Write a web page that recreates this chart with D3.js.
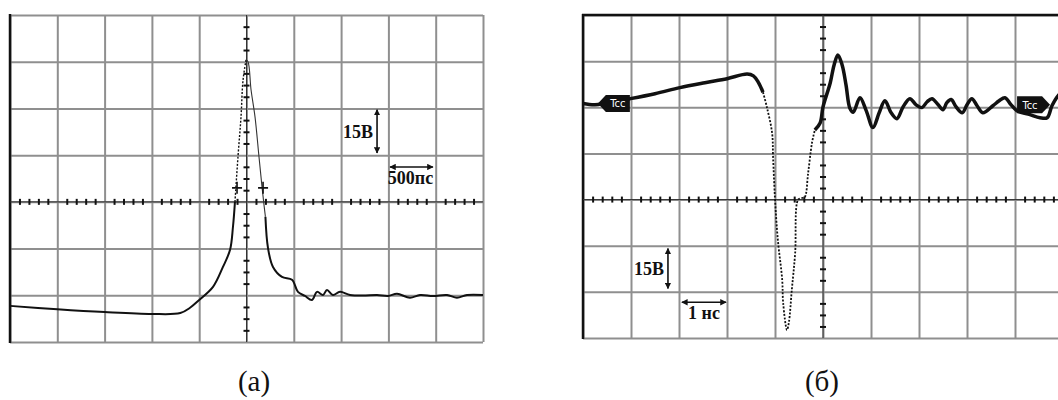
<!DOCTYPE html>
<html>
<head>
<meta charset="utf-8">
<script src="https://cdn.jsdelivr.net/npm/d3@7"></script>
<style>
  body { margin: 0; background: #fff; }
  svg { display: block; }
</style>
</head>
<body>
<svg id="chart" width="1058" height="400"></svg>
<script>
// (а) pulse, 500 ps/div, 15 V/div
const timeA = [-2500, -2000, -1500, -1000, -700, -597, -500, -354, -249, -174, -143, -122, -90, -58, -37, -5, 16, 48, 90, 132, 164, 185, 200, 227, 280, 375, 481, 544, 618, 692, 745, 809, 851, 914, 988, 1094, 1231, 1380, 1496, 1591, 1728, 1834, 1972, 2120, 2225, 2331, 2500];
const voltA = [-33.4, -34.5, -35.4, -36.0, -35.7, -34.0, -31.5, -27.3, -20.9, -15.4, -8.0, 0, 14.5, 27.3, 39, 45.6, 45, 36, 27.3, 14.5, 4.8, -1, -4.8, -14.8, -20.9, -24.1, -25, -28.9, -30.2, -31.5, -28.9, -29.9, -28.3, -29.9, -28.9, -29.9, -30.1, -29.9, -30.2, -29.5, -30.8, -29.9, -30.2, -29.9, -30.8, -29.9, -29.9];
const dottedA = [-122, -5];         // rising edge, drawn dotted
const thinA = [-5, 200];            // falling edge, drawn thin
const cursorA = [[-100, 4.5], [175, 4.5]];

// (б) pulse, 1 ns/div, 15 V/div
const timeB = [-5, -4.75, -4.5, -4.02, -3.5, -2.98, -2.46, -2.0, -1.58, -1.45, -1.35, -1.25, -1.17, -1.06, -1.04, -1.0, -0.94, -0.85, -0.83, -0.75, -0.71, -0.65, -0.58, -0.52, -0.44, -0.38, -0.31, -0.23, -0.17, -0.06, 0.0, 0.15, 0.23, 0.31, 0.40, 0.48, 0.56, 0.63, 0.77, 0.90, 1.04, 1.17, 1.29, 1.42, 1.54, 1.67, 1.81, 1.94, 2.06, 2.17, 2.27, 2.40, 2.50, 2.58, 2.67, 2.77, 2.90, 3.00, 3.10, 3.21, 3.33, 3.54, 3.67, 3.79, 3.92, 4.04, 4.31, 4.52, 4.67, 4.77, 4.90, 5.0];
const voltB = [31.2, 30.8, 31.5, 32.8, 34.4, 36.4, 38.0, 39.3, 40.8, 40.2, 38.2, 34.9, 30.1, 21.6, 13.8, 0.2, -13.2, -26.1, -33.6, -42.4, -39.8, -29.4, -17.4, -0.1, 0.5, 0.8, 8.6, 18.4, 22.6, 24.9, 30.1, 37.9, 43.7, 47.0, 43.7, 37.2, 29.7, 28.4, 33.1, 28.9, 23.4, 28.2, 32.1, 28.2, 26.3, 30.2, 32.8, 30.8, 29.9, 31.8, 32.8, 30.8, 29.2, 31.5, 32.5, 30.2, 28.2, 30.8, 32.8, 30.5, 28.2, 30.5, 32.1, 33.1, 30.8, 28.9, 27.6, 26.6, 26.6, 30.5, 33.8, 35.0];
const dottedB = [-1.25, -0.17];
const thinB = null;
const markerB = [[-4.69, 31.2, "left"], [4.73, 30.8, "right"]];

const gridColor = "#8f8f8f";
const labelFont = "'Liberation Serif', 'Times New Roman', serif";

const svg = d3.select("#chart");

svg.append("defs").append("marker")
    .attr("id", "arrow")
    .attr("viewBox", "0 0 10 10")
    .attr("refX", 9).attr("refY", 5)
    .attr("markerWidth", 4).attr("markerHeight", 4)
    .attr("orient", "auto-start-reverse")
    .append("path")
    .attr("d", "M0,0 L10,5 L0,10 z")
    .attr("fill", "#111");

// cut the trace into pieces: normal / dotted / thin
function splitTrace(times, volts, dotted, thin) {
  const pts = times.map((t, i) => [t, volts[i]]);
  const fastEnd = thin ? thin[1] : dotted[1];
  const inside = (p, w) => p[0] >= w[0] && p[0] <= w[1];
  const pieces = [
    { pts: pts.filter(p => p[0] <= dotted[0]), style: "normal" },
    { pts: pts.filter(p => inside(p, dotted)), style: "dotted" },
    { pts: pts.filter(p => p[0] >= fastEnd), style: "normal" }
  ];
  if (thin) pieces.push({ pts: pts.filter(p => inside(p, thin)), style: "thin" });
  return pieces;
}

function drawPanel(o) {
  const x = o.x, y = o.y;
  const g = svg.append("g");
  const [x0, x1] = x.range();
  const [yb, yt] = y.range();

  // grid
  g.append("g")
      .attr("transform", `translate(0,${yb})`)
      .call(d3.axisBottom(x).tickValues(d3.range(x.domain()[0], x.domain()[1] + o.tDiv / 2, o.tDiv))
        .tickSize(-(yb - yt)).tickFormat(""))
      .call(a => a.select(".domain").remove())
      .selectAll("line").attr("stroke", gridColor).attr("stroke-width", 2);

  g.append("g")
      .attr("transform", `translate(${x0},0)`)
      .call(d3.axisLeft(y).tickValues(d3.range(y.domain()[0], y.domain()[1] + 1, 15))
        .tickSize(-(x1 - x0)).tickFormat(""))
      .call(a => a.select(".domain").remove())
      .selectAll("line").attr("stroke", gridColor).attr("stroke-width", 2);

  // dark borders
  o.darkEdges.forEach(e => {
    const l = g.append("line").attr("stroke", "#111").attr("stroke-width", 2.5);
    if (e === "left") l.attr("x1", x0).attr("x2", x0).attr("y1", yt - 1).attr("y2", yb + 1);
    if (e === "top") l.attr("x1", x0 - 1).attr("x2", x1).attr("y1", yt).attr("y2", yt);
  });

  // centre cross with minor ticks
  g.append("line")
      .attr("x1", x0).attr("x2", x1).attr("y1", y(0)).attr("y2", y(0))
      .attr("stroke", "#333").attr("stroke-width", 1);
  g.append("line")
      .attr("x1", x(0)).attr("x2", x(0)).attr("y1", yt).attr("y2", yb)
      .attr("stroke", "#333").attr("stroke-width", 1);

  const minorT = d3.range(x.domain()[0], x.domain()[1], o.tDiv / 5)
      .filter(t => Math.abs(Math.round(t / o.tDiv) * o.tDiv - t) > 1e-6);
  const minorV = d3.range(y.domain()[0], y.domain()[1], 15 / 4)
      .filter(v => Math.abs(Math.round(v / 15) * 15 - v) > 1e-6);

  g.append("g")
      .attr("transform", `translate(0,${y(0) - 3})`)
      .call(d3.axisBottom(x).tickValues(minorT).tickSize(6).tickFormat(""))
      .call(a => a.select(".domain").remove())
      .selectAll("line").attr("stroke", "#111").attr("stroke-width", 2);

  g.append("g")
      .attr("transform", `translate(${x(0) + 3},0)`)
      .call(d3.axisLeft(y).tickValues(minorV).tickSize(6).tickFormat(""))
      .call(a => a.select(".domain").remove())
      .selectAll("line").attr("stroke", "#111").attr("stroke-width", 2);

  // trace
  const line = d3.line().x(d => x(d[0])).y(d => y(d[1])).curve(d3.curveCatmullRom.alpha(0.5));
  splitTrace(o.times, o.volts, o.dotted, o.thin).forEach(piece => {
    const p = g.append("path").datum(piece.pts).attr("d", line)
        .attr("fill", "none").attr("stroke", "#111").attr("stroke-linejoin", "round");
    if (piece.style === "normal") p.attr("stroke-width", o.traceWidth);
    if (piece.style === "dotted") p.attr("stroke-width", o.dotWidth).attr("stroke-dasharray", "2,1.6");
    if (piece.style === "thin") p.attr("stroke-width", 1.1).attr("stroke", "#333");
  });

  // scale bars
  g.append("line")
      .attr("x1", x(o.vBar.t)).attr("x2", x(o.vBar.t))
      .attr("y1", y(o.vBar.v[1])).attr("y2", y(o.vBar.v[0]))
      .attr("stroke", "#111").attr("stroke-width", 1.6)
      .attr("marker-start", "url(#arrow)").attr("marker-end", "url(#arrow)");
  g.append("text")
      .attr("x", x(o.vBar.t) - 4).attr("y", y((o.vBar.v[0] + o.vBar.v[1]) / 2))
      .attr("dy", "0.35em").attr("text-anchor", "end")
      .attr("font-family", labelFont).attr("font-weight", "bold").attr("font-size", 18)
      .attr("fill", "#111").text("15В");

  g.append("line")
      .attr("x1", x(o.tBar.t[0])).attr("x2", x(o.tBar.t[1]))
      .attr("y1", y(o.tBar.v)).attr("y2", y(o.tBar.v))
      .attr("stroke", "#111").attr("stroke-width", 1.6)
      .attr("marker-start", "url(#arrow)").attr("marker-end", "url(#arrow)");
  g.append("text")
      .attr("x", (x(o.tBar.t[0]) + x(o.tBar.t[1])) / 2 + o.tBar.dx).attr("y", y(o.tBar.v) + 17)
      .attr("text-anchor", "middle")
      .attr("font-family", labelFont).attr("font-weight", "bold").attr("font-size", 18)
      .attr("fill", "#111").text(o.tBar.label);

  svg.append("text")
      .attr("x", o.caption.x).attr("y", 391)
      .attr("text-anchor", "middle")
      .attr("font-family", labelFont).attr("font-size", 29)
      .attr("fill", "#111").text(o.caption.text);

  return { g, x, y };
}

// panel (а)
const pa = drawPanel({
  x: d3.scaleLinear().domain([-2500, 2500]).range([10, 483]),
  y: d3.scaleLinear().domain([-45, 60]).range([342, 15]),
  tDiv: 500,
  times: timeA, volts: voltA, dotted: dottedA, thin: thinA,
  traceWidth: 2, dotWidth: 1.4,
  darkEdges: ["left"],
  vBar: { t: 1380, v: [15.7, 29.6] },
  tBar: { t: [1517, 1971], v: 11.2, label: "500пс", dx: -1 },
  caption: { x: 254, text: "(а)" }
});

pa.g.selectAll(".cursor")
    .data(cursorA)
    .enter().append("path")
    .attr("class", "cursor")
    .attr("d", d => {
      const cx = pa.x(d[0]), cy = pa.y(d[1]);
      return `M${cx - 5},${cy}H${cx + 5}M${cx},${cy - 6}V${cy + 6}`;
    })
    .attr("stroke", "#111").attr("stroke-width", 1.6);

// panel (б)
const pb = drawPanel({
  x: d3.scaleLinear().domain([-5, 5]).range([583, 1063]),
  y: d3.scaleLinear().domain([-45, 60]).range([338, 15]),
  tDiv: 1,
  times: timeB, volts: voltB, dotted: dottedB, thin: thinB,
  traceWidth: 3.5, dotWidth: 1.8,
  darkEdges: ["left", "top"],
  vBar: { t: -3.23, v: [-28.9, -15.9] },
  tBar: { t: [-2.94, -2.02], v: -33.4, label: "1 нс", dx: 0 },
  caption: { x: 822, text: "(б)" }
});

const tag = pb.g.selectAll(".tag")
    .data(markerB)
    .enter().append("g")
    .attr("class", "tag")
    .attr("transform", d => `translate(${pb.x(d[0])},${pb.y(d[1])})`);

tag.append("path")
    .attr("d", d => d[2] === "left"
      ? "M0,0 L8,-8.5 H32 V8.5 H8 Z"
      : "M0,0 L-8,-8.5 H-33 V8.5 H-8 Z")
    .attr("fill", "#111");

tag.append("text")
    .attr("x", d => d[2] === "left" ? 20 : -20)
    .attr("y", 0).attr("dy", "0.35em")
    .attr("text-anchor", "middle")
    .attr("font-family", "'Liberation Sans Narrow', 'DejaVu Sans Condensed', sans-serif")
    .attr("font-size", 11)
    .attr("fill", "#fff")
    .text("Tcc");
</script>
</body>
</html>
